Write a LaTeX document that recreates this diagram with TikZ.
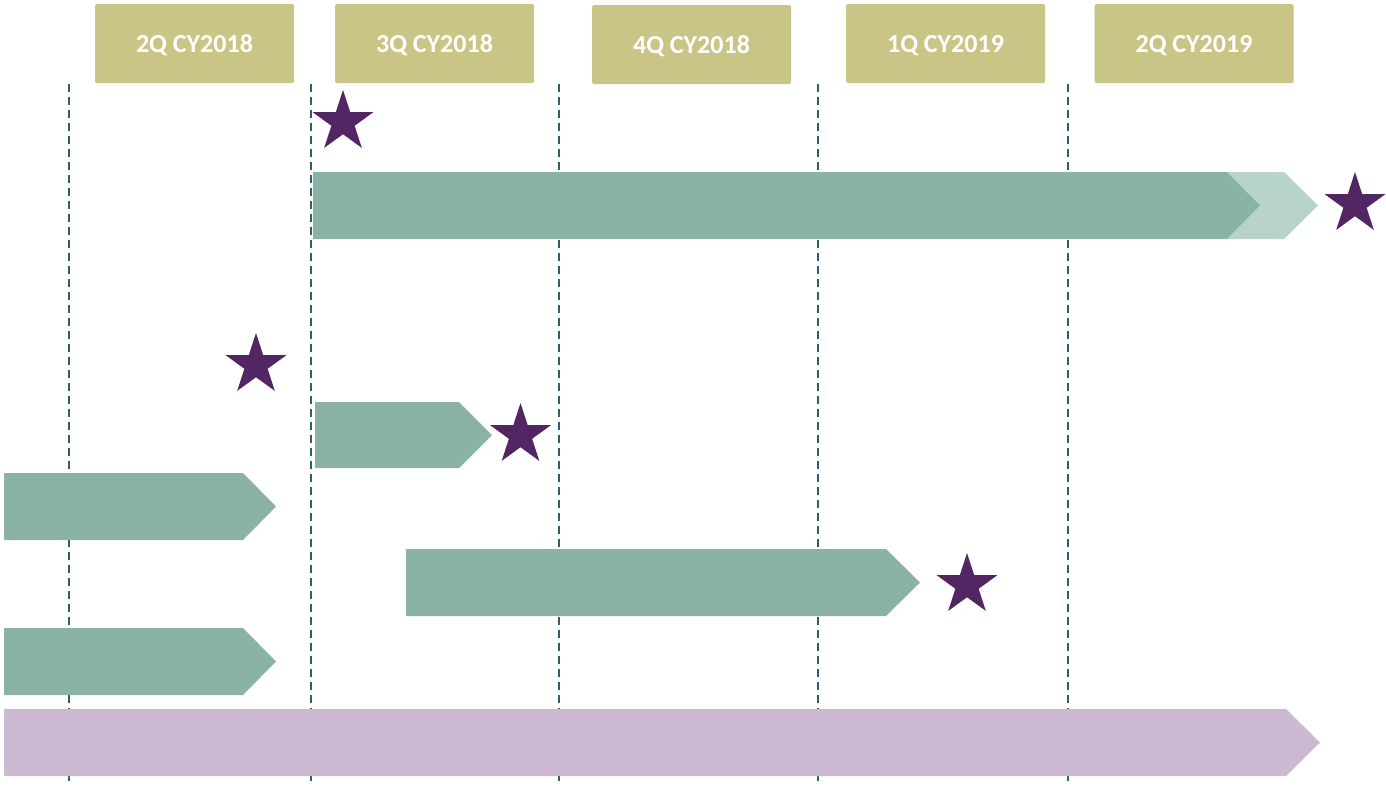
\documentclass[tikz,border=0pt]{standalone}
\usepackage{fontspec}
\setmainfont{Carlito}
\usetikzlibrary{shapes.geometric}
\definecolor{hdr}{HTML}{C9C587}
\definecolor{grn}{HTML}{8BB3A5}
\definecolor{lgrn}{HTML}{B8D3C8}
\definecolor{prp}{HTML}{CDB8D2}
\definecolor{strc}{HTML}{512662}
\definecolor{dsh}{HTML}{2E5E6A}
\tikzset{
  hdrbox/.style={fill=hdr, rounded corners=1.5pt, minimum width=199pt, minimum height=79pt, inner sep=0pt,
    text height=18pt, text depth=0pt,
    text=white, font=\bfseries\fontsize{26}{30}\selectfont},
  starnode/.style={star, star points=5, star point ratio=2.618, fill=strc, minimum size=64pt, inner sep=0pt},
  grid/.style={dsh, line width=1.7pt, dash pattern=on 8pt off 5pt},
}
\begin{document}
\begin{tikzpicture}[x=1pt,y=-1pt]
\useasboundingbox (0,0) rectangle (1386,785);
% dashed quarter separators
\foreach \xx/\nm in {69/g1,311/g2,559/g3,818/g4,1068/g5}{
  \coordinate (\nm t) at (\xx,84);
  \coordinate (\nm b) at (\xx,785);
  \draw[grid] (\nm t) -- (\nm b);
}
% headers
\node[hdrbox] (h1) at (194.5,43.5) {2Q CY2018};
\node[hdrbox] (h2) at (434.5,43.5) {3Q CY2018};
\node[hdrbox] (h3) at (691.5,44.5) {4Q CY2018};
\node[hdrbox] (h4) at (945.5,43.5) {1Q CY2019};
\node[hdrbox] (h5) at (1194,43.5) {2Q CY2019};
% bars
\fill[lgrn] (1227,172) -- (1284,172) -- (1318,205.5) -- (1284,239) -- (1227,239) -- (1260,205.5) -- cycle;
\fill[grn] (313,172) -- (1227,172) -- (1260,205.5) -- (1227,239) -- (313,239) -- cycle;
\fill[grn] (315,402) -- (459,402) -- (492,435) -- (459,468) -- (315,468) -- cycle;
\fill[grn] (4,473) -- (243,473) -- (276,506.5) -- (243,540) -- (4,540) -- cycle;
\fill[grn] (406,549) -- (886,549) -- (920,582.5) -- (886,616) -- (406,616) -- cycle;
\fill[grn] (4,628) -- (243,628) -- (276,661.5) -- (243,695) -- (4,695) -- cycle;
\fill[prp] (4,709) -- (1286,709) -- (1320,742.5) -- (1286,776) -- (4,776) -- cycle;
% stars
\node[starnode] (s1) at (343,122) {};
\node[starnode] (s2) at (1355,204) {};
\node[starnode] (s3) at (256,365) {};
\node[starnode] (s4) at (520.5,435) {};
\node[starnode] (s5) at (967,585) {};
\end{tikzpicture}
\end{document}
